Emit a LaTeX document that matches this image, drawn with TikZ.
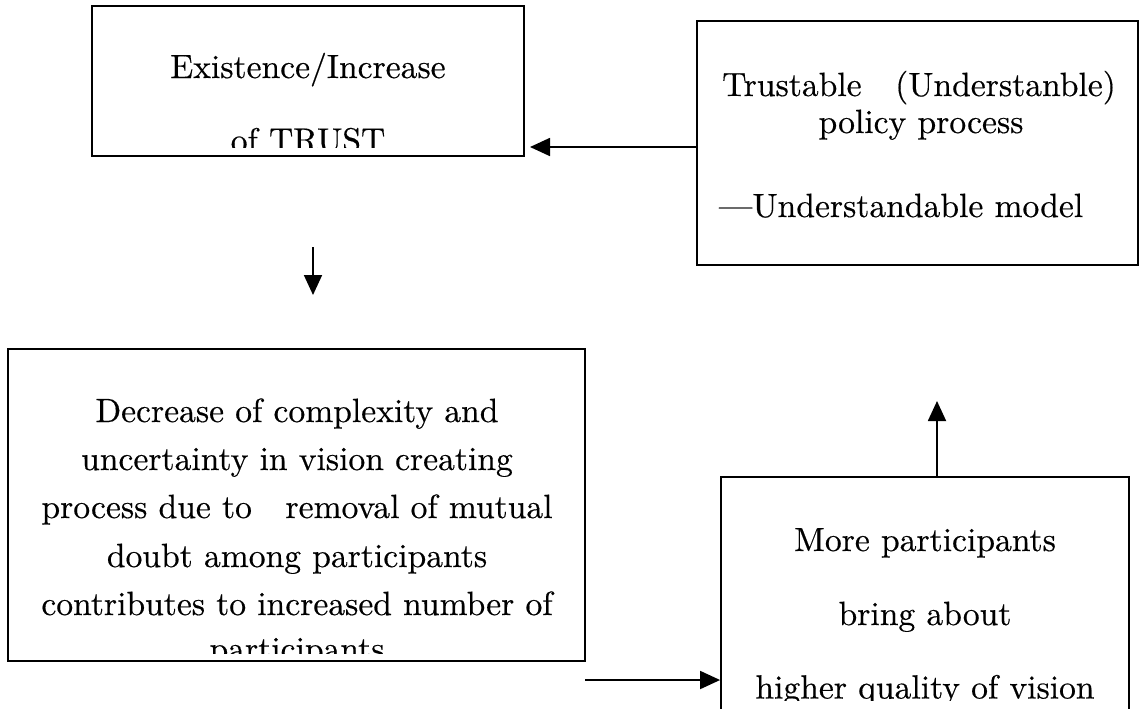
\documentclass[tikz,border=0pt]{standalone}
\usepackage{fontspec}
\newfontfamily\boxfont{lmroman10-regular.otf}[FakeBold=0.4]
\usetikzlibrary{arrows.meta}

\tikzset{
    panel/.style={draw, line width=0.9pt, inner sep=0pt},
    txt/.style={anchor=base, inner sep=0pt, font=\boxfont\fontsize{16.8}{20}\selectfont},
    conn/.style={line width=0.9pt, -{Triangle[length=10pt,width=9pt]}},
}

\begin{document}
\begin{tikzpicture}[x=0.5pt,y=-0.5pt]
    \useasboundingbox (0,0) rectangle (1145,708);
    \clip (0,0) rectangle (1145,708);
    % boxes
    \node[panel,minimum width=216pt,minimum height=75pt] (trust) at (308,81) {};
    \node[panel,minimum width=220.5pt,minimum height=122pt] (policy) at (917.5,143) {};
    \node[panel,minimum width=288.5pt,minimum height=156pt] (decrease) at (296.5,505) {};
    \node[panel,minimum width=204pt,minimum height=117.5pt] (more) at (925,594.5) {};
    % texts, cut at the lower edge of each box
    \begin{scope}
        \clip ([yshift=4.5pt]trust.south west) rectangle (trust.north east);
        \node[txt] (trust-1) at (308,78) {Existence/Increase};
        \node[txt] (trust-2) at (308,151.5) {of TRUST};
    \end{scope}
    \node[txt] (policy-1) at (919,96) {Trustable\hspace{1em}(Understanble)};
    \node[txt] (policy-2) at (921,133) {policy process};
    \node[txt] (policy-3) at (901,217) {—Understandable model};
    \begin{scope}
        \clip ([yshift=4pt]decrease.south west) rectangle (decrease.north east);
        \node[txt] (decrease-1) at (297,422) {Decrease of complexity and};
        \node[txt] (decrease-2) at (297,470) {uncertainty in vision creating};
        \node[txt] (decrease-3) at (297,518) {process due to\hspace{1em}removal of mutual};
        \node[txt] (decrease-4) at (297,567) {doubt among participants};
        \node[txt] (decrease-5) at (297,615) {contributes to increased number of};
        \node[txt] (decrease-6) at (297,660) {participants};
    \end{scope}
    \begin{scope}
        \clip ([yshift=6pt]more.south west) rectangle (more.north east);
        \node[txt] (more-1) at (925,551) {More participants};
        \node[txt] (more-2) at (925,625) {bring about};
        \node[txt] (more-3) at (925,698.5) {higher quality of vision};
    \end{scope}
    % arrows
    \coordinate (left-to) at (530,147);
    \coordinate (down-from) at (313,247);
    \coordinate (down-to) at (313,295);
    \coordinate (right-from) at (585,680);
    \coordinate (up-to) at (937,401);
    \draw[conn] (policy.west |- left-to) -- (left-to);
    \draw[conn] (down-from) -- (down-to);
    \draw[conn] (right-from) -- (more.west |- right-from);
    \draw[conn] (more.north -| up-to) -- (up-to);
\end{tikzpicture}
\end{document}
